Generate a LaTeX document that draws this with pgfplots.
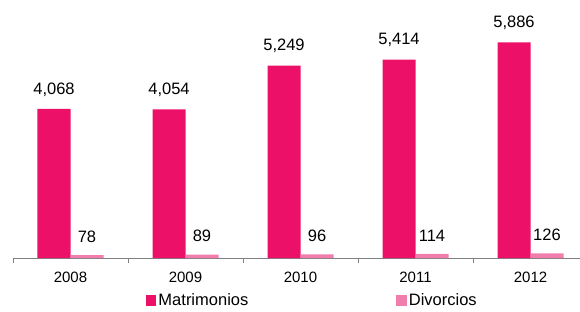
\documentclass[border=0pt]{standalone}
\usepackage{fontspec}
\setmainfont{Liberation Sans}
\usepackage{pgfplots}
\pgfplotsset{compat=1.18}
\definecolor{matri}{RGB}{236,16,104}
\definecolor{divor}{RGB}{240,125,172}
\definecolor{axgray}{RGB}{128,128,128}
\begin{document}
\begin{tikzpicture}
\path[use as bounding box] (-13pt,-53pt) rectangle (567pt,258pt);
\begin{axis}[
  at={(0pt,0pt)}, anchor=south west,
  scale only axis,
  width=566.95pt, height=258pt,
  xmin=-0.5, xmax=4.43,
  ymin=0, ymax=7043,
  ybar, bar width=33pt, ybar=0pt,
  axis x line=bottom, axis y line=none,
  axis line style={-, axgray, line width=0.8pt},
  xtick={0,1,2,3,4},
  xticklabels={2008,2009,2010,2011,2012},
  major x tick style={draw=none},
  minor xtick={-0.5,0.5,1.5,2.5,3.5},
  minor x tick style={axgray, line width=0.8pt},
  minor tick length=5pt,
  tick align=outside,
  xticklabel style={font=\fontsize{15}{18}\selectfont, yshift=-6.5pt},
  /pgf/number format/assume math mode=true,
  /pgf/number format/1000 sep={,},
  nodes near coords,
  every node near coord/.append style={font=\fontsize{16.5}{19}\selectfont, anchor=south, inner sep=0pt, yshift=12.5pt, text=black},
  legend columns=2,
  legend style={draw=none, fill=none, at={(0.528,-42pt)}, anchor=center,
    font=\fontsize{16.5}{19}\selectfont, /tikz/every even column/.append style={column sep=146pt}},
  legend image code/.code={\fill[#1] (-3pt,-5.5pt) rectangle (7.5pt,5.5pt);},
  clip=false,
]
\addplot[fill=matri, draw=none] coordinates {(0,4068) (1,4054) (2,5249) (3,5414) (4,5886)};
\addplot[fill=divor, draw=none] coordinates {(0,78) (1,89) (2,96) (3,114) (4,126)};
\legend{Matrimonios, Divorcios}
\end{axis}
\end{tikzpicture}
\end{document}
